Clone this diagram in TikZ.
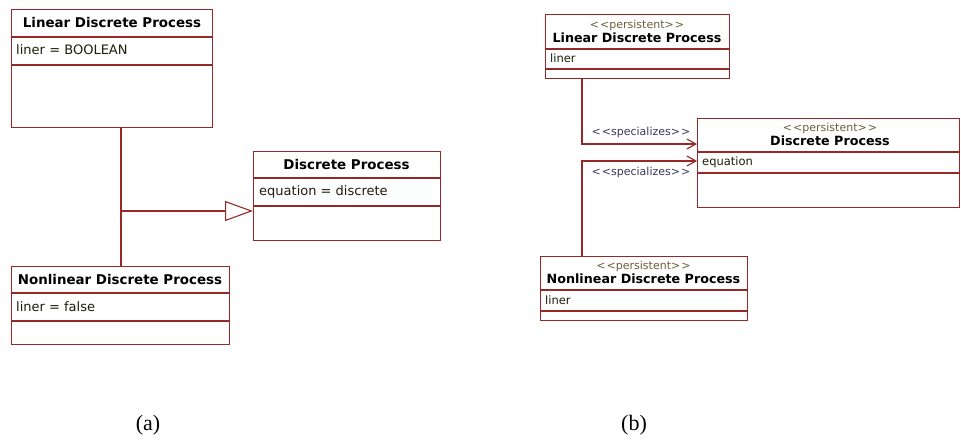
\documentclass[tikz,border=0pt]{standalone}
\usepackage{fontspec}
\setmainfont{DejaVu Sans}
\newfontfamily\capfont{Liberation Serif}
\usetikzlibrary{arrows.meta}
\definecolor{umlred}{RGB}{150,40,40}
\definecolor{stereo}{RGB}{105,95,55}
\definecolor{labcol}{RGB}{55,55,85}
\definecolor{txt}{RGB}{30,30,10}
\newcommand{\umlbox}[7]{% name, x, y, w, h, div1, div2 (absolute y)
  \node[classbox, minimum width=#4pt, minimum height=#5pt, anchor=north west] (#1) at (#2,#3) {};
  \draw[umlline] (#2,#6) -- (#2+#4,#6);
  \draw[umlline] (#2,#7) -- (#2+#4,#7);
}
\begin{document}
\begin{tikzpicture}[x=1pt,y=-1pt,
  classbox/.style={draw=umlred, line width=1.3pt, fill=white, inner sep=0pt, rectangle},
  umlline/.style={draw=umlred, line width=1.1pt},
  conn/.style={draw=umlred, line width=1.2pt},
  titleA/.style={font=\fontsize{13.4}{15}\selectfont\bfseries, text=black, inner sep=0pt},
  attrA/.style={font=\fontsize{13}{15}\selectfont, text=txt, inner sep=0pt, anchor=west},
  titleB/.style={font=\fontsize{12.7}{14}\selectfont\bfseries, text=black, inner sep=0pt},
  stereoB/.style={font=\fontsize{11}{12}\selectfont, text=stereo, inner sep=0pt},
  attrB/.style={font=\fontsize{11.5}{12}\selectfont, text=txt, inner sep=0pt, anchor=west},
  specl/.style={font=\fontsize{11}{12}\selectfont, text=labcol, inner sep=0pt},
  caption/.style={font=\capfont\fontsize{22}{24}\selectfont, inner sep=0pt}]
\useasboundingbox (0,0) rectangle (961,441);

% ---------- (a) ----------
\umlbox{lin}{11}{9}{201}{118}{37}{65}
\node[titleA] (linT) at (112,23) {Linear Discrete Process};
\node[attrA] (linA) at (16,50) {liner\,\,= BOOLEAN};

\umlbox{dp}{253}{151}{187}{89}{178}{206}
\node[titleA] (dpT) at (346.5,164.5) {Discrete Process};
\node[attrA] (dpA) at (259,192) {equation = discrete};

\umlbox{nl}{11}{266}{218}{78}{293}{321}
\node[titleA] (nlT) at (120,279.5) {Nonlinear Discrete Process};
\node[attrA] (nlA) at (16,306.5) {liner = false};

\coordinate (j) at (121,211);
\draw[conn] (lin.south -| j) -- (nl.north -| j);
\draw[conn, -{Triangle[open, length=28pt, width=20pt, line width=1.1pt]}] (j) -- (dp.west |- j);

% ---------- (b) ----------
\umlbox{rlin}{545}{14}{184}{64}{49}{69}
\node[stereoB] (rlinS) at (637,25) {<\kern1pt<persistent>\kern1pt>};
\node[titleB] (rlinT) at (637,38) {Linear Discrete Process};
\node[attrB] (rlinA) at (550,58) {liner};

\umlbox{rdp}{697}{118}{262}{89}{152}{173}
\node[stereoB] (rdpS) at (830,128) {<\kern1pt<persistent>\kern1pt>};
\node[titleB] (rdpT) at (830,141) {Discrete Process};
\node[attrB] (rdpA) at (702,162) {equation};

\umlbox{rnl}{540}{256}{207}{64}{290}{311}
\node[stereoB] (rnlS) at (643.5,266) {<\kern1pt<persistent>\kern1pt>};
\node[titleB] (rnlT) at (643.5,279) {Nonlinear Discrete Process};
\node[attrB] (rnlA) at (545,300) {liner};

\coordinate (c1) at (582,144);
\coordinate (c2) at (582,161);
\draw[conn, -{Straight Barb[length=9pt, width=10pt, line width=1.1pt]}] (rlin.south -| c1) -- (c1) -- (rdp.west |- c1);
\draw[conn, -{Straight Barb[length=9pt, width=10pt, line width=1.1pt]}] (rnl.north -| c2) -- (c2) -- (rdp.west |- c2);
\node[specl] (s1) at (641,132) {<\kern1pt<specializes>\kern1pt>};
\node[specl] (s2) at (641,172) {<\kern1pt<specializes>\kern1pt>};

% captions
\node[caption] (capa) at (148,425) {(a)};
\node[caption] (capb) at (634,425) {(b)};
\end{tikzpicture}
\end{document}
